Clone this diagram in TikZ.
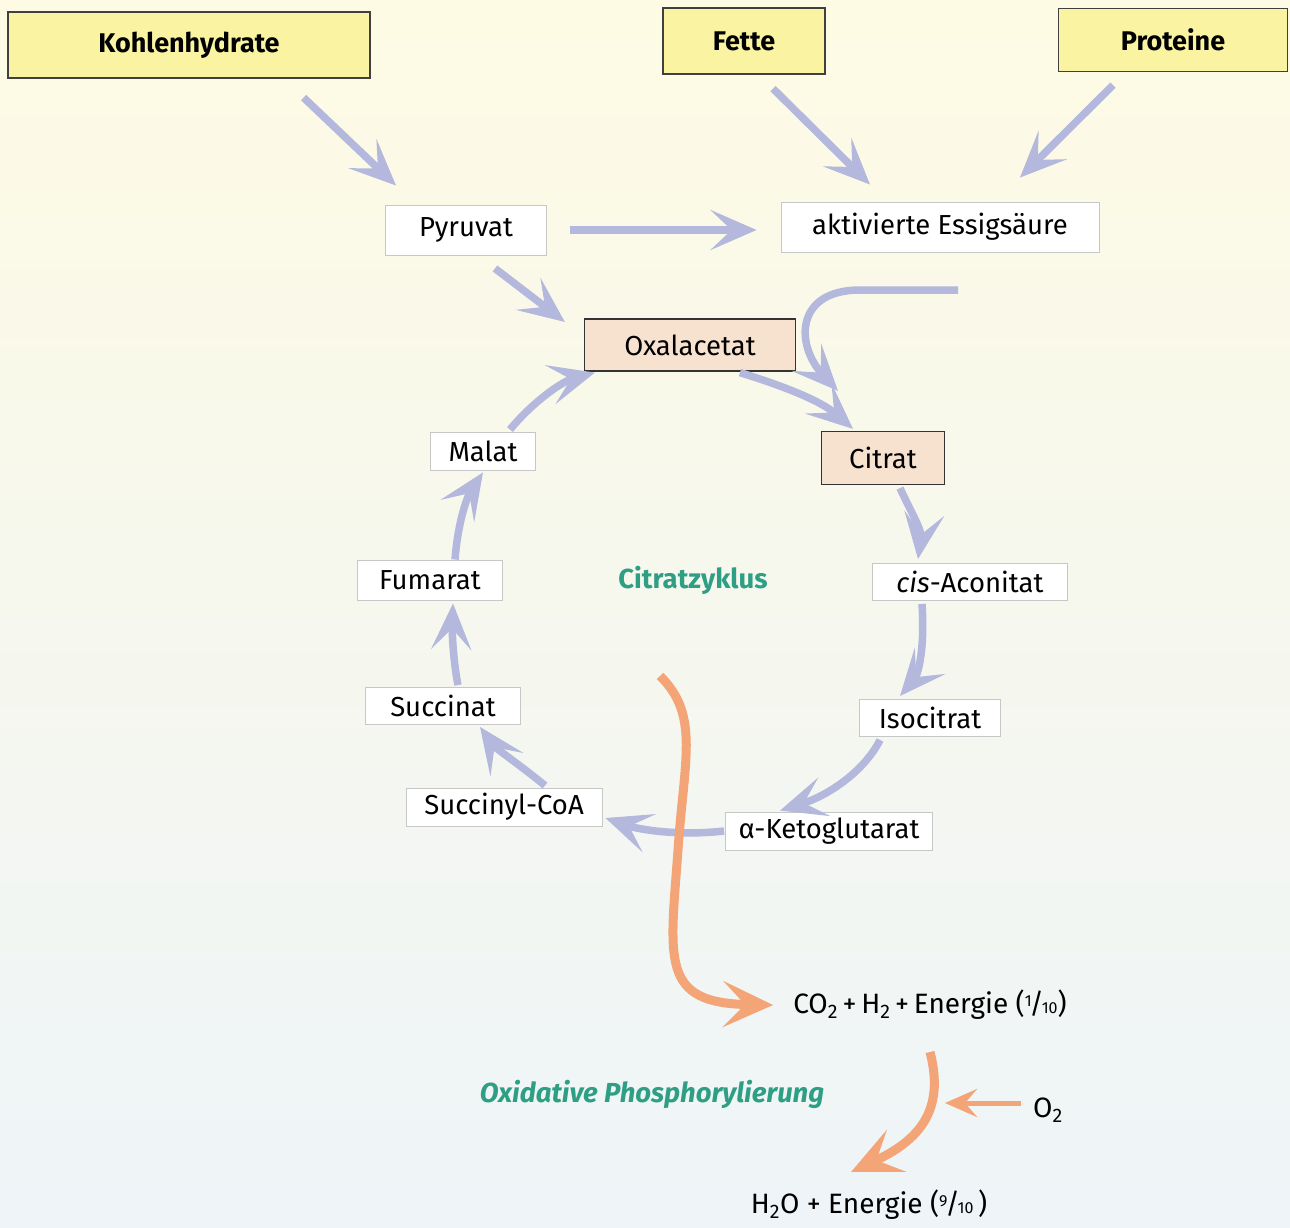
\documentclass[tikz,border=0pt]{standalone}
\usepackage{fontspec}
\setmainfont{Fira Sans}
\usetikzlibrary{arrows.meta,calc}
\definecolor{lav}{HTML}{B3B8DC}
\definecolor{org}{HTML}{F4A578}
\definecolor{grn}{HTML}{2E9E84}
\definecolor{yel}{HTML}{F9F3A2}
\definecolor{pea}{HTML}{F7E2D0}
\definecolor{bgtop}{HTML}{FEFBE4}
\definecolor{bgmid}{HTML}{FCFBEE}
\definecolor{bgbot}{HTML}{EEF4F8}
\newcommand\myfrac[2]{\raisebox{.5ex}{\fontsize{16}{16}\selectfont#1}\kern-.08em/\kern-.08em{\fontsize{16}{16}\selectfont#2}}
\tikzset{
  topbox/.style={draw=black!75,line width=1.2pt,fill=yel,inner sep=0pt,font=\fontsize{27}{32}\selectfont\bfseries},
  smallbox/.style={draw=black!22,line width=0.9pt,fill=white,inner sep=0pt,font=\fontsize{27.5}{32}\selectfont},
  peabox/.style={draw=black!80,line width=1.2pt,fill=pea,inner sep=0pt,font=\fontsize{27.5}{32}\selectfont},
  plain/.style={inner sep=0pt,font=\fontsize{28}{32}\selectfont},
  larrow/.style={draw=lav,line width=7.5pt,-{Stealth[length=46pt,width=40pt,inset=21pt]}},
  oarrow/.style={draw=org,line width=9pt,-{Stealth[length=50pt,width=46pt,inset=22pt]}},
  oarrows/.style={draw=org,line width=5pt,-{Stealth[length=32pt,width=28pt,inset=12pt]}},
}
\begin{document}
\begin{tikzpicture}[x=1pt,y=-1pt]
\shade[top color=bgtop,middle color=bgmid,bottom color=bgbot] (0,0) rectangle (1290,1228);
\useasboundingbox (0,0) rectangle (1290,1228);
% top boxes
\node[topbox,minimum width=362pt,minimum height=66pt] (kh) at (189,45) {Kohlenhydrate};
\node[topbox,minimum width=162pt,minimum height=66pt] (fe) at (744,41) {Fette};
\node[topbox,minimum width=229pt,minimum height=63pt] (pr) at (1173,40) {Proteine};
% metabolites
\node[smallbox,minimum width=161pt,minimum height=50pt] (pyr) at (466,230) {Pyruvat};
\node[smallbox,minimum width=318pt,minimum height=50pt] (es) at (940,227) {aktivierte Essigsäure};
\node[peabox,minimum width=211pt,minimum height=52pt] (oxa) at (690,345) {Oxalacetat};
\node[peabox,minimum width=123pt,minimum height=53pt] (cit) at (883,458) {Citrat};
\node[smallbox,minimum width=105pt,minimum height=38pt] (mal) at (483,451) {Malat};
\node[smallbox,minimum width=195pt,minimum height=37pt] (cis) at (970,582) {\textit{cis}-Aconitat};
\node[smallbox,minimum width=145pt,minimum height=40pt] (fum) at (430,580) {Fumarat};
\node[smallbox,minimum width=141pt,minimum height=37pt] (iso) at (930,718) {Isocitrat};
\node[smallbox,minimum width=155pt,minimum height=37pt] (succ) at (443,706) {Succinat};
\node[smallbox,minimum width=196pt,minimum height=38pt] (sc) at (504,807) {Succinyl-CoA};
\node[smallbox,minimum width=207pt,minimum height=38pt] (ak) at (829,831) {α-Ketoglutarat};
\node[plain,text=grn,font=\fontsize{27.5}{32}\selectfont\bfseries] (cz) at (693,580) {Citratzyklus};
\node[plain,text=grn,font=\fontsize{27.5}{32}\selectfont\bfseries\itshape] (op) at (652,1094) {Oxidative Phosphorylierung};
\node[plain] (co2) at (930,1005) {CO\textsubscript{2}\,+\,H\textsubscript{2}\,+\,Energie (\myfrac{1}{10})};
\node[plain] (o2) at (1048,1110) {O\textsubscript{2}};
\node[plain] (h2o) at (869,1205) {H\textsubscript{2}O + Energie (\myfrac{9}{10}\,)};
\coordinate (acin) at (958,290);
\coordinate (orst) at (660,676);
\coordinate (oxin) at (945,1103);
% lavender arrows
\draw[larrow] ($(kh.south east)+(-67,19)$) -- ($(pyr.north west)+(11,-19)$);
\draw[larrow] ($(fe.south)+(29,14)$) -- ($(es.north)+(-70,-17)$);
\draw[larrow] ($(pr.south)+(-60,13)$) -- ($(es.north)+(80,-24)$);
\draw[larrow] ($(pyr.east)+(23,0)$) -- ($(es.west)+(-24,3)$);
\draw[larrow] ($(pyr.south)+(29,13)$) -- ($(oxa.west)+(-19,-23)$);
\draw[larrow] (acin) -- (860,290) .. controls (795,290) and (795,345) .. ($(cit.north)+(-45,-40)$);
\draw[larrow] ($(oxa.south)+(50,1)$) .. controls (780,385) and (820,400) .. ($(cit.north)+(-30,-2)$);
\draw[larrow] ($(cit.south)+(17,3)$) .. controls (910,510) and (922,530) .. ($(cis.north)+(-52,-4)$);
\draw[larrow] ($(cis.south)+(-48,3)$) .. controls (925,650) and (918,675) .. ($(iso.north)+(-30,-3)$);
\draw[larrow] ($(iso.south)+(-50,3)$) .. controls (865,770) and (830,795) .. ($(ak.north)+(-49,-1)$);
\draw[larrow] ($(ak.west)+(-1,0)$) .. controls (680,836) and (640,830) .. ($(sc.east)+(3,11)$);
\draw[larrow] ($(sc.north)+(41,-2)$) .. controls (520,765) and (495,748) .. ($(succ.south)+(37,2)$);
\draw[larrow] ($(succ.north)+(15,-2)$) .. controls (453,660) and (452,630) .. ($(fum.south)+(23,3)$);
\draw[larrow] ($(fum.north)+(25,0)$) .. controls (458,520) and (468,495) .. ($(mal.south)+(0,2)$);
\draw[larrow] ($(mal.north)+(27,-2)$) .. controls (530,405) and (560,382) .. ($(oxa.south west)+(11,1)$);
% orange arrows
\draw[oarrow] (orst) .. controls (700,715) and (684,760) .. (678,850) .. controls (670,960) and (660,1003) .. ($(co2.west)+(-20,0)$);
\draw[oarrow] ($(co2.south)+(0,32)$) .. controls (945,1110) and (920,1140) .. ($(h2o.north)+(-18,-18)$);
\draw[oarrows] ($(o2.west)+(-12,-7)$) -- (oxin);
\end{tikzpicture}
\end{document}
